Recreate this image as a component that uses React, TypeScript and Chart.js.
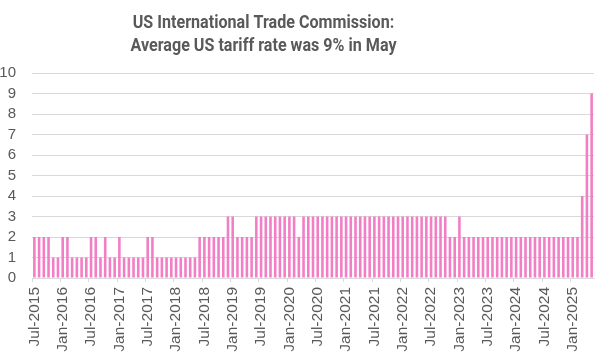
import React, { useEffect, useRef } from 'react';
import { Chart, registerables } from 'chart.js';

Chart.register(...registerables);

const TITLE_LINES = ['US International Trade Commission:', 'Average US tariff rate was 9% in May'];

const MONTH_NAMES = ['Jan', 'Feb', 'Mar', 'Apr', 'May', 'Jun', 'Jul', 'Aug', 'Sep', 'Oct', 'Nov', 'Dec'];
const START_YEAR = 2015;
const START_MONTH_INDEX = 6; // Jul

// Average US tariff rate (%), monthly, Jul-2015 .. May-2025
const TARIFF_RATE = [
  2, 2, 2, 2, 1, 1, // 2015 Jul-Dec
  2, 2, 1, 1, 1, 1, 2, 2, 1, 2, 1, 1, // 2016
  2, 1, 1, 1, 1, 1, 2, 2, 1, 1, 1, 1, // 2017
  1, 1, 1, 1, 1, 2, 2, 2, 2, 2, 2, 3, // 2018
  3, 2, 2, 2, 2, 3, 3, 3, 3, 3, 3, 3, // 2019
  3, 3, 2, 3, 3, 3, 3, 3, 3, 3, 3, 3, // 2020
  3, 3, 3, 3, 3, 3, 3, 3, 3, 3, 3, 3, // 2021
  3, 3, 3, 3, 3, 3, 3, 3, 3, 3, 2, 2, // 2022
  3, 2, 2, 2, 2, 2, 2, 2, 2, 2, 2, 2, // 2023
  2, 2, 2, 2, 2, 2, 2, 2, 2, 2, 2, 2, // 2024
  2, 2, 4, 7, 9, // 2025 Jan-May
];

const CATEGORIES = TARIFF_RATE.map((_, i) => {
  const k = START_MONTH_INDEX + i;
  return `${MONTH_NAMES[k % 12]}-${START_YEAR + Math.floor(k / 12)}`;
});

const TICK_LABELS = [
  'Jul-2015', 'Jan-2016', 'Jul-2016', 'Jan-2017', 'Jul-2017', 'Jan-2018', 'Jul-2018',
  'Jan-2019', 'Jul-2019', 'Jan-2020', 'Jul-2020', 'Jan-2021', 'Jul-2021', 'Jan-2022',
  'Jul-2022', 'Jan-2023', 'Jul-2023', 'Jan-2024', 'Jul-2024', 'Jan-2025',
];

const Y_TICKS = [0, 1, 2, 3, 4, 5, 6, 7, 8, 9, 10];

const TEXT_COLOR = '#595959';
const GRID_COLOR = '#d9d9d9';
const BAR_COLOR = '#F27EC6';

const titlePlugin = {
  id: 'customTitle',
  afterDraw(chart: any) {
    const ctx = chart.ctx;
    ctx.save();
    ctx.fillStyle = TEXT_COLOR;
    ctx.font = 'bold 19px Roboto, "Liberation Sans", sans-serif';
    ctx.textAlign = 'center';
    ctx.textBaseline = 'alphabetic';
    const targetWidth = 266;
    const w = Math.max(ctx.measureText(TITLE_LINES[0]).width, ctx.measureText(TITLE_LINES[1]).width);
    const sx = Math.min(1, targetWidth / w);
    ctx.translate(263.5, 0);
    ctx.scale(sx, 1);
    ctx.fillText(TITLE_LINES[0], 0, 28);
    ctx.fillText(TITLE_LINES[1], 0, 51);
    ctx.restore();
  },
};

export default function App() {
  const canvasRef = useRef<HTMLCanvasElement | null>(null);

  useEffect(() => {
    if (!canvasRef.current) return;
    const chart = new Chart(canvasRef.current, {
      type: 'bar',
      data: {
        labels: CATEGORIES,
        datasets: [
          {
            label: 'Average US tariff rate',
            data: TARIFF_RATE,
            backgroundColor: BAR_COLOR,
            borderWidth: 0,
            barPercentage: 0.55,
            categoryPercentage: 1,
          },
        ],
      },
      options: {
        animation: false,
        responsive: true,
        maintainAspectRatio: false,
        layout: { padding: { top: 73, right: 6, left: 0, bottom: 0 } },
        plugins: {
          legend: { display: false },
          title: { display: false },
          tooltip: { enabled: false },
        },
        scales: {
          x: {
            offset: true,
            grid: {
              offset: true,
              drawOnChartArea: false,
              drawTicks: true,
              tickLength: 4,
              color: (c: any) =>
                TICK_LABELS.includes(CATEGORIES[c.index]) ? GRID_COLOR : 'rgba(0,0,0,0)',
            },
            border: { display: true, color: GRID_COLOR },
            ticks: {
              autoSkip: false,
              minRotation: 90,
              maxRotation: 90,
              padding: 5,
              color: TEXT_COLOR,
              font: { family: '"Liberation Sans", Arial, sans-serif', size: 15.5 },
              callback: (_v: any, index: number) =>
                TICK_LABELS.includes(CATEGORIES[index]) ? CATEGORIES[index] : '',
            },
            afterFit: (scale: any) => {
              scale.height = 78;
              scale.paddingRight = 0;
              scale.paddingLeft = 0;
            },
          },
          y: {
            min: 0,
            max: 10,
            afterBuildTicks: (scale: any) => {
              scale.ticks = Y_TICKS.map((v) => ({ value: v }));
            },
            grid: { color: GRID_COLOR, drawTicks: false },
            border: { display: false },
            ticks: {
              autoSkip: false,
              stepSize: 1,
              padding: 16,
              color: TEXT_COLOR,
              font: { family: '"Liberation Sans", Arial, sans-serif', size: 15 },
            },
            afterFit: (scale: any) => {
              scale.width = 32;
            },
          },
        },
      },
      plugins: [titlePlugin],
    });
    return () => chart.destroy();
  }, []);

  return (
    <div style={{ position: 'absolute', left: 0, top: 0, width: 600, height: 356, background: '#fff' }}>
      <canvas ref={canvasRef} />
    </div>
  );
}
